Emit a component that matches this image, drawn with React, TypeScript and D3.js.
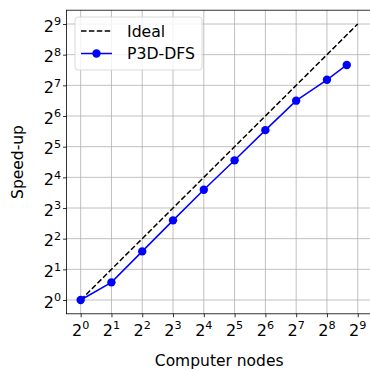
import React, { useRef, useEffect } from 'react';
import * as d3 from 'd3';

// computer nodes and measured speed-up
const nodes = [1, 2, 4, 8, 16, 32, 64, 128, 256, 400];
const speedup = [1, 1.49, 3.0, 6.05, 12.1, 23.5, 46.5, 90.5, 145, 203];
const idealNodes = [1, 512];
const tickExps = [0, 1, 2, 3, 4, 5, 6, 7, 8, 9];

const W = 370;
const H = 371;

const App: React.FC = () => {
  const svgRef = useRef<SVGSVGElement>(null);

  useEffect(() => {
    if (!svgRef.current) return;
    const svg = d3.select(svgRef.current);
    svg.selectAll('*').remove();

    const font = 'DejaVu Sans, sans-serif';
    const left = 66.5;
    const right = 371.9;
    const top = 10.2;
    const bottom = 313.8;

    const x = d3.scaleLog().base(2).domain([2 ** -0.46, 2 ** 9.46]).range([left, right]);
    const y = d3.scaleLog().base(2).domain([2 ** -0.45, 2 ** 9.45]).range([bottom, top]);
    const ticks = tickExps.map((e) => 2 ** e);

    // grid
    const grid = svg.append('g').attr('stroke', '#b0b0b0').attr('stroke-width', 0.8);
    ticks.forEach((t) => {
      grid.append('line').attr('x1', x(t)).attr('x2', x(t)).attr('y1', top).attr('y2', bottom);
      grid.append('line').attr('x1', left).attr('x2', right).attr('y1', y(t)).attr('y2', y(t));
    });

    // axes
    const xAxis = svg
      .append('g')
      .attr('transform', `translate(0,${bottom})`)
      .call(d3.axisBottom(x).tickValues(ticks).tickSize(3.5).tickFormat(() => ''));
    const yAxis = svg
      .append('g')
      .attr('transform', `translate(${left},0)`)
      .call(d3.axisLeft(y).tickValues(ticks).tickSize(3.5).tickFormat(() => ''));
    [xAxis, yAxis].forEach((a) => {
      a.select('.domain').remove();
      a.selectAll('line').attr('stroke', '#000').attr('stroke-width', 0.8);
    });

    // spines
    svg
      .append('rect')
      .attr('x', left)
      .attr('y', top)
      .attr('width', right - left)
      .attr('height', bottom - top)
      .attr('fill', 'none')
      .attr('stroke', '#000')
      .attr('stroke-width', 0.8);

    // tick labels
    tickExps.forEach((e) => {
      const tx = svg
        .append('text')
        .attr('x', x(2 ** e))
        .attr('y', bottom + 22)
        .attr('text-anchor', 'middle')
        .style('font-family', font)
        .style('font-size', '16px')
        .attr('fill', '#000');
      tx.append('tspan').text('2');
      tx.append('tspan').attr('dy', -6.5).style('font-size', '11.2px').text(String(e));

      const ty = svg
        .append('text')
        .attr('x', left - 5.5)
        .attr('y', y(2 ** e) + 7.8)
        .attr('text-anchor', 'end')
        .style('font-family', font)
        .style('font-size', '16px')
        .attr('fill', '#000');
      ty.append('tspan').text('2');
      ty.append('tspan').attr('dy', -6.5).style('font-size', '11.2px').text(String(e));
    });

    // axis labels
    svg
      .append('text')
      .attr('x', (left + right) / 2)
      .attr('y', 366)
      .attr('text-anchor', 'middle')
      .style('font-family', font)
      .style('font-size', '15.5px')
      .text('Computer nodes');
    svg
      .append('text')
      .attr('transform', `translate(22.5,${(top + bottom) / 2}) rotate(-90)`)
      .attr('text-anchor', 'middle')
      .style('font-family', font)
      .style('font-size', '15.5px')
      .text('Speed-up');

    // ideal line
    svg
      .append('path')
      .datum(idealNodes)
      .attr('fill', 'none')
      .attr('stroke', '#000')
      .attr('stroke-width', 1.5)
      .attr('stroke-dasharray', '5.5,2.4')
      .attr(
        'd',
        d3
          .line<number>()
          .x((d) => x(d))
          .y((d) => y(d))
      );

    // P3D-DFS
    const pts = nodes.map((n, i) => [n, speedup[i]] as [number, number]);
    svg
      .append('path')
      .datum(pts)
      .attr('fill', 'none')
      .attr('stroke', '#0000ff')
      .attr('stroke-width', 1.5)
      .attr(
        'd',
        d3
          .line<[number, number]>()
          .x((d) => x(d[0]))
          .y((d) => y(d[1]))
      );
    svg
      .selectAll('.pt')
      .data(pts)
      .enter()
      .append('circle')
      .attr('class', 'pt')
      .attr('cx', (d) => x(d[0]))
      .attr('cy', (d) => y(d[1]))
      .attr('r', 4.2)
      .attr('fill', '#0000ff');

    // legend
    const lg = svg.append('g');
    lg.append('rect')
      .attr('x', 75)
      .attr('y', 17)
      .attr('width', 127)
      .attr('height', 53)
      .attr('rx', 3)
      .attr('fill', '#fff')
      .attr('fill-opacity', 0.8)
      .attr('stroke', '#d0d0d0')
      .attr('stroke-width', 0.8);
    lg.append('line')
      .attr('x1', 81)
      .attr('x2', 112)
      .attr('y1', 31)
      .attr('y2', 31)
      .attr('stroke', '#000')
      .attr('stroke-width', 1.5)
      .attr('stroke-dasharray', '5.5,2.4');
    lg.append('line')
      .attr('x1', 81)
      .attr('x2', 112)
      .attr('y1', 53.5)
      .attr('y2', 53.5)
      .attr('stroke', '#0000ff')
      .attr('stroke-width', 1.5);
    lg.append('circle').attr('cx', 96.5).attr('cy', 53.5).attr('r', 4.2).attr('fill', '#0000ff');
    lg.append('text')
      .attr('x', 127)
      .attr('y', 36.7)
      .style('font-family', font)
      .style('font-size', '15.7px')
      .text('Ideal');
    lg.append('text')
      .attr('x', 127)
      .attr('y', 58.5)
      .style('font-family', font)
      .style('font-size', '15.7px')
      .text('P3D-DFS');
  }, []);

  return (
    <div style={{ position: 'absolute', left: 0, top: 0 }}>
      <svg ref={svgRef} width={W} height={H} style={{ display: 'block', background: '#fff' }} />
    </div>
  );
};

export default App;
